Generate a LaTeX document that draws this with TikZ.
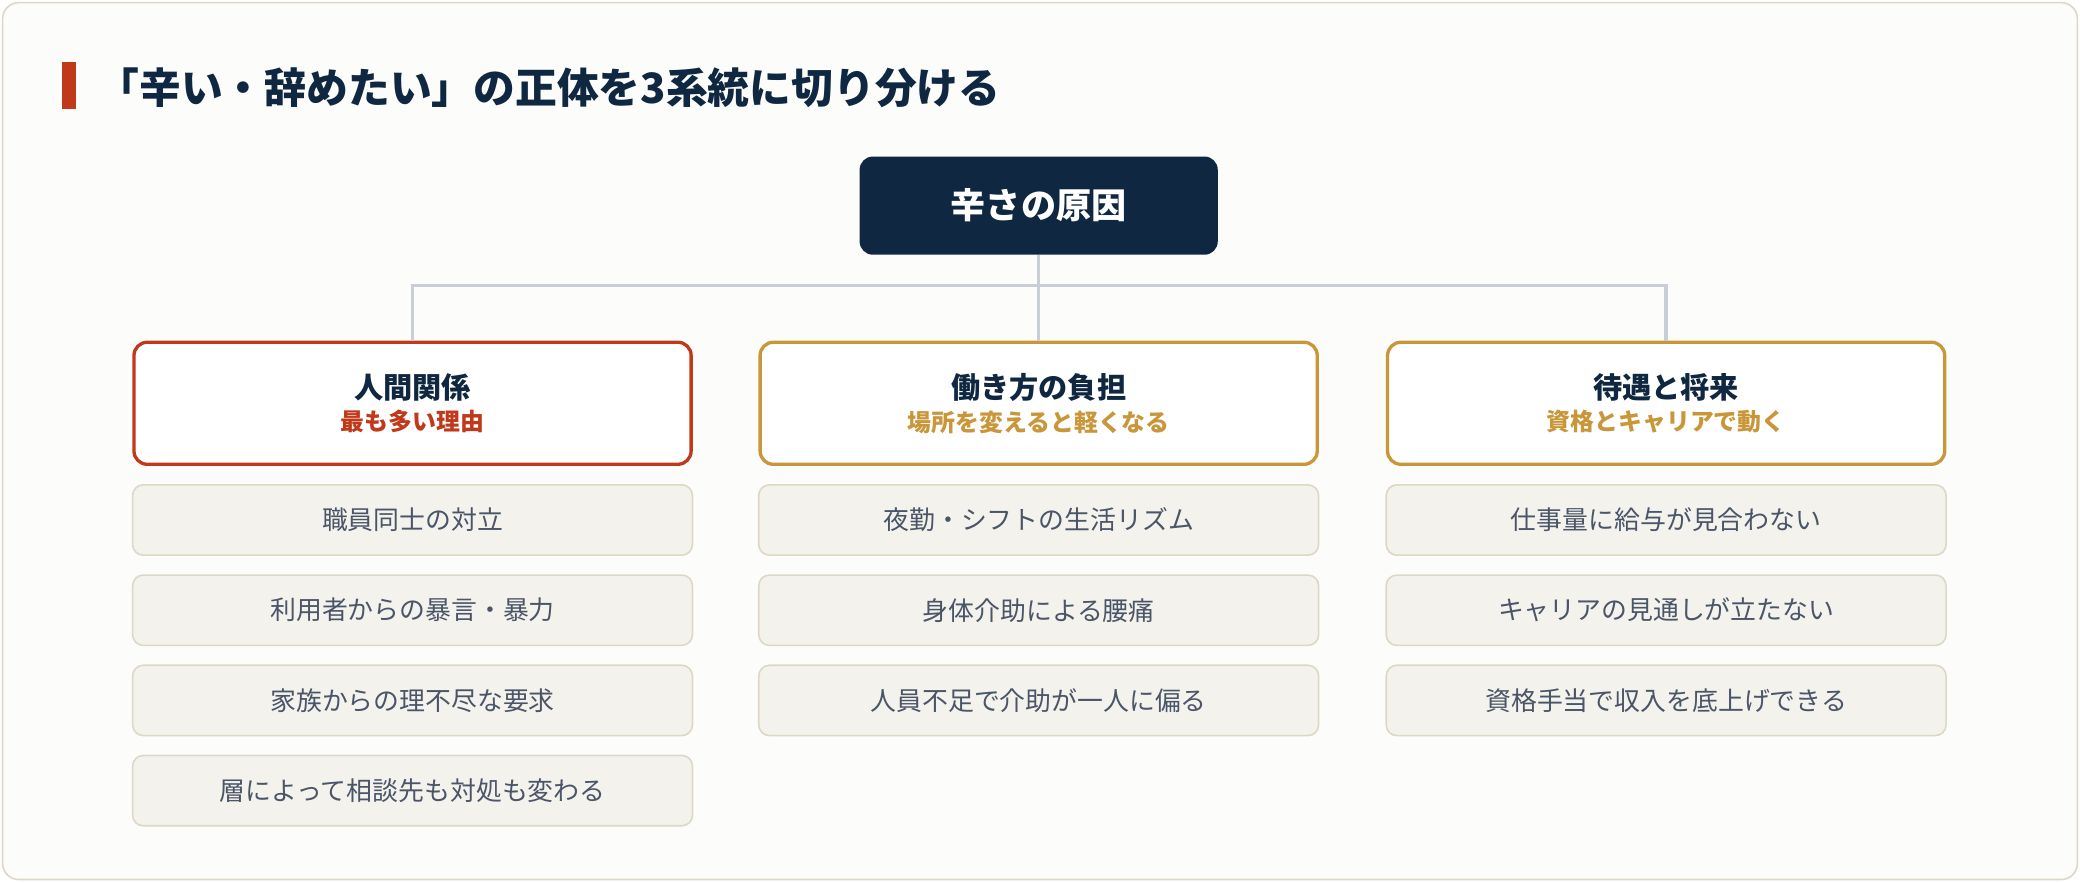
\documentclass[tikz,border=0pt]{standalone}
\usepackage{fontspec}
\setmainfont{Noto Sans CJK JP}
\usetikzlibrary{positioning,calc}
\definecolor{navy}{HTML}{0F2740}
\definecolor{rust}{HTML}{C0391B}
\definecolor{gold}{HTML}{C9963A}
\definecolor{linegray}{HTML}{C9CED6}
\definecolor{itemfill}{HTML}{F4F2EC}
\definecolor{itemline}{HTML}{DDD8C6}
\definecolor{itemtext}{HTML}{4A5568}
\begin{document}
\begin{tikzpicture}[
    x=1pt, y=-1pt,
    root/.style={rectangle, fill=navy, text=white, minimum width=270pt, minimum height=74pt, rounded corners=10pt, font=\fontsize{26.5}{30}\selectfont\bfseries},
    cat/.style={rectangle, draw=#1, line width=2.5pt, fill=white, minimum width=420pt, minimum height=92pt, rounded corners=10pt, align=center},
    item/.style={rectangle, draw=itemline, line width=1.2pt, fill=itemfill, text=itemtext, minimum width=422pt, minimum height=53pt, rounded corners=8pt, font=\fontsize{19.5}{22}\selectfont},
    link/.style={draw=linegray, line width=2.5pt}
]

% background frame
\fill[white] (0,0) rectangle (1568,665);
\draw[draw=itemline, fill=white!75!itemfill, line width=1.2pt, rounded corners=12pt] (2,2) rectangle (1566,663);
\fill[rust] (47,47) rectangle (57,82);
\node[anchor=west, text=navy, font=\fontsize{31.5}{36}\selectfont\bfseries] (title) at (70,66) {「辛い・辞めたい」の正体を3系統に切り分ける};

% root
\node[root] (cause) at (783,155) {辛さの原因};

% categories
\node[cat=rust] (human) at (311,304) {{\fontsize{22}{26}\selectfont\bfseries\color{navy}人間関係}\\[6pt]{\fontsize{18}{20}\selectfont\bfseries\color{rust}最も多い理由}};
\node[cat=gold] (work) at (783,304) {{\fontsize{22}{26}\selectfont\bfseries\color{navy}働き方の負担}\\[6pt]{\fontsize{18}{20}\selectfont\bfseries\color{gold}場所を変えると軽くなる}};
\node[cat=gold] (pay) at (1256,304) {{\fontsize{22}{26}\selectfont\bfseries\color{navy}待遇と将来}\\[6pt]{\fontsize{18}{20}\selectfont\bfseries\color{gold}資格とキャリアで動く}};

% connectors
\coordinate (junction) at (783,215);
\draw[link] (cause.south) -- (junction);
\draw[link] (junction) -| (human.north);
\draw[link] (junction) -- (work.north);
\draw[link] (junction) -| (pay.north);

% items
\node[item] (h1) at (311,392) {職員同士の対立};
\node[item] (h2) at (311,460) {利用者からの暴言・暴力};
\node[item] (h3) at (311,528) {家族からの理不尽な要求};
\node[item] (h4) at (311,596) {層によって相談先も対処も変わる};

\node[item] (w1) at (783,392) {夜勤・シフトの生活リズム};
\node[item] (w2) at (783,460) {身体介助による腰痛};
\node[item] (w3) at (783,528) {人員不足で介助が一人に偏る};

\node[item] (p1) at (1256,392) {仕事量に給与が見合わない};
\node[item] (p2) at (1256,460) {キャリアの見通しが立たない};
\node[item] (p3) at (1256,528) {資格手当で収入を底上げできる};

\end{tikzpicture}
\end{document}
